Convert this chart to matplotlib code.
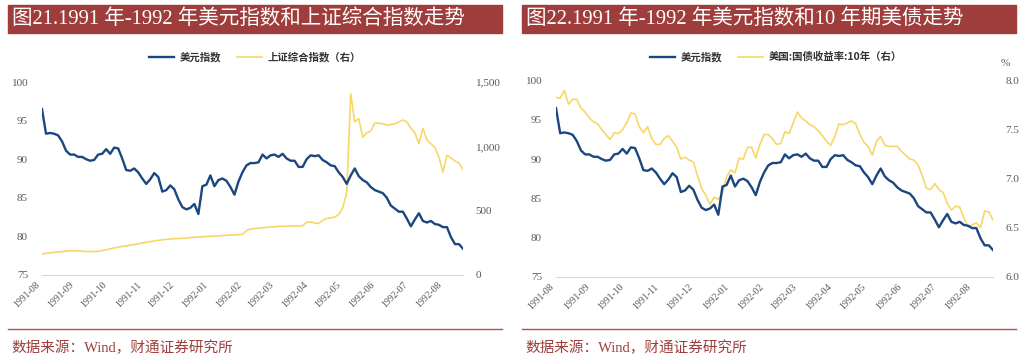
import numpy as np
import pandas as pd
import matplotlib
matplotlib.use("Agg")
import matplotlib.pyplot as plt
import matplotlib.ticker as mticker
import matplotlib.dates as mdates
from matplotlib.patches import Rectangle
from matplotlib.lines import Line2D

# ---- data (roughly every 4 days) ----
start_date = "1991-08-01"
end_date = "1992-08-19"

dxy = [
    96.5, 93.3, 93.4, 93.3, 93.1, 92.3, 91.1, 90.6, 90.6, 90.3,
    90.3, 90.0, 89.8, 89.9, 90.6, 90.7, 91.3, 90.7, 91.5, 91.4,
    90.1, 88.6, 88.5, 88.8, 88.3, 87.5, 86.8, 87.4, 88.2, 87.7,
    85.8, 86.0, 86.6, 86.1, 84.8, 83.8, 83.5, 83.7, 84.2, 82.9,
    86.5, 86.7, 87.9, 86.5, 87.3, 87.5, 87.2, 86.4, 85.4, 87.1,
    88.3, 89.2, 89.5, 89.5, 89.6, 90.6, 90.1, 90.5, 90.6, 90.3,
    90.7, 90.1, 89.8, 89.8, 89.0, 89.0, 90.0, 90.5, 90.4, 90.5,
    89.9, 89.6, 89.2, 89.1, 88.3, 87.7, 86.8, 87.9, 88.8, 87.8,
    87.3, 87.0, 86.4, 86.0, 85.8, 85.6, 85.0, 84.0, 83.6, 83.2,
    83.2, 82.3, 81.3, 82.2, 83.0, 82.0, 81.8, 82.0, 81.6, 81.5,
    81.2, 81.2, 79.9, 79.0, 79.0, 78.4,
]

sse = [
    163, 168, 172, 176, 180, 182, 186, 188, 188, 187,
    185, 183, 182, 182, 184, 190, 196, 203, 210, 216,
    222, 227, 232, 236, 243, 249, 255, 260, 265, 269,
    273, 277, 280, 282, 284, 285, 287, 290, 293, 295,
    297, 299, 301, 303, 305, 307, 309, 311, 312, 314,
    316, 345, 357, 361, 364, 367, 370, 373, 375, 377,
    378, 379, 380, 381, 381, 383, 410, 412, 404, 400,
    425, 440, 444, 450, 470, 520, 640, 1410, 1190, 1215,
    1070, 1105, 1120, 1180, 1180, 1175, 1165, 1170, 1175, 1190,
    1205, 1190, 1140, 1105, 1020, 1140, 1050, 1020, 990, 915,
    800, 930, 910, 885, 870, 820,
]

us10y = [
    7.83, 7.82, 7.90, 7.76, 7.81, 7.81, 7.72, 7.68, 7.62, 7.58,
    7.56, 7.50, 7.45, 7.40, 7.47, 7.46, 7.50, 7.57, 7.67, 7.66,
    7.53, 7.47, 7.53, 7.41, 7.35, 7.35, 7.41, 7.44, 7.38, 7.32,
    7.20, 7.22, 7.19, 7.17, 7.03, 6.90, 6.83, 6.74, 6.81, 6.79,
    6.85, 7.02, 7.09, 7.06, 7.21, 7.20, 7.32, 7.32, 7.21, 7.35,
    7.45, 7.45, 7.41, 7.35, 7.36, 7.48, 7.46, 7.57, 7.68, 7.62,
    7.59, 7.55, 7.53, 7.49, 7.44, 7.38, 7.34, 7.43, 7.56, 7.55,
    7.57, 7.59, 7.56, 7.45, 7.37, 7.33, 7.24, 7.38, 7.43, 7.34,
    7.33, 7.33, 7.33, 7.28, 7.24, 7.20, 7.19, 7.14, 7.03, 6.90,
    6.89, 6.95, 6.89, 6.86, 6.75, 6.68, 6.72, 6.71, 6.60, 6.51,
    6.53, 6.55, 6.50, 6.67, 6.66, 6.58,
]

month_ticks = ["1991-08", "1991-09", "1991-10", "1991-11", "1991-12", "1992-01",
               "1992-02", "1992-03", "1992-04", "1992-05", "1992-06", "1992-07",
               "1992-08"]

titles = ["图21.1991 年-1992 年美元指数和上证综合指数走势",
          "图22.1991 年-1992 年美元指数和10 年期美债走势"]
legend_labels = [["美元指数", "上证综合指数（右）"],
                 ["美元指数", "美国:国债收益率:10年（右）"]]
source = "数据来源：Wind，财通证券研究所"

dates = pd.date_range(start_date, end_date, periods=len(dxy))

# ---- style ----
BLUE = "#1b467f"
YELLOW = "#f7d768"
RED = "#9e3d3b"
GREY = "#595959"
SERIF = ["Liberation Serif", "Noto Sans CJK SC"]
CJK = ["Noto Sans CJK SC", "DejaVu Sans"]

W, H = 1024, 363
fig = plt.figure(figsize=(W / 100, H / 100), dpi=100)


def fx(px):
    return px / W


def fy(py):
    return 1 - py / H


def style_axes(ax, ax2):
    for a in (ax, ax2):
        for s in ("top", "left", "right"):
            a.spines[s].set_visible(False)
        a.spines["bottom"].set_color("#d9d9d9")
        a.tick_params(length=0, colors=GREY, labelsize=8)
        for lab in a.get_yticklabels():
            lab.set_family(SERIF)
    ax2.spines["bottom"].set_visible(False)
    ax.set_xticks(pd.to_datetime(month_ticks))
    ax.set_xticklabels(month_ticks, rotation=45, ha="right",
                       fontsize=7, family=SERIF, color=GREY)
    ax.tick_params(axis="x", pad=4)
    ax.set_xlim(dates[0], dates[-1])
    ax.set_ylim(75, 100)
    ax.set_yticks([75, 80, 85, 90, 95, 100])
    ax.tick_params(axis="y", pad=10)
    ax2.tick_params(axis="y", pad=9)


# ---- panel 1 ----
ax1 = fig.add_axes([fx(42), fy(275), fx(421), 193 / H])
ax1b = ax1.twinx()
ax1b.plot(dates, sse, color=YELLOW, lw=1.2)
ax1.plot(dates, dxy, color=BLUE, lw=1.7, zorder=3)
ax1.set_zorder(ax1b.get_zorder() + 1)
ax1.patch.set_visible(False)
ax1b.set_ylim(0, 1500)
ax1b.set_yticks([0, 500, 1000, 1500])
ax1b.yaxis.set_major_formatter(mticker.FuncFormatter(lambda v, p: f"{int(v):,}"))
style_axes(ax1, ax1b)

# ---- panel 2 ----
ax2 = fig.add_axes([fx(556), fy(276.7), fx(437), 196 / H])
ax2b = ax2.twinx()
ax2b.plot(dates, us10y, color=YELLOW, lw=1.2)
ax2.plot(dates, dxy, color=BLUE, lw=1.7, zorder=3)
ax2.set_zorder(ax2b.get_zorder() + 1)
ax2.patch.set_visible(False)
ax2b.set_ylim(6.0, 8.0)
ax2b.set_yticks([6.0, 6.5, 7.0, 7.5, 8.0])
ax2b.yaxis.set_major_formatter(mticker.FormatStrFormatter("%.1f"))
style_axes(ax2, ax2b)
fig.text(fx(1005), fy(63), "%", ha="center", va="center",
         fontsize=8, color=GREY, family=SERIF)

# ---- frames: title bars, legends, source lines ----
for i, x0 in enumerate([8, 522]):
    fig.patches.append(Rectangle((fx(x0), fy(32.5)), fx(494), 27.5 / H,
                                 transform=fig.transFigure, color=RED, zorder=0))
    fig.text(fx(x0 + 4), fy(19), titles[i], color="white", fontsize=14.8,
             family=SERIF, va="center", ha="left")
    fig.add_artist(Line2D([fx(x0), fx(x0 + 494)], [fy(329), fy(329)],
                          transform=fig.transFigure, color="#b5504c", lw=1))
    fig.text(fx(x0 + 3), fy(348), source, color=RED, fontsize=10.5,
             family=SERIF, va="center", ha="left")
    handles = [Line2D([], [], color=BLUE, lw=1.7), Line2D([], [], color=YELLOW, lw=1.2)]
    cx = [255, 776][i]
    fig.legend(handles, legend_labels[i], loc="center",
               bbox_to_anchor=(fx(cx), fy(57)), ncol=2, frameon=False,
               handlelength=2.4, columnspacing=1.6, handletextpad=0.5,
               prop={"family": CJK, "size": 7.5, "weight": "bold"},
               labelcolor="#333333")

fig.savefig("out.png", dpi=100)
